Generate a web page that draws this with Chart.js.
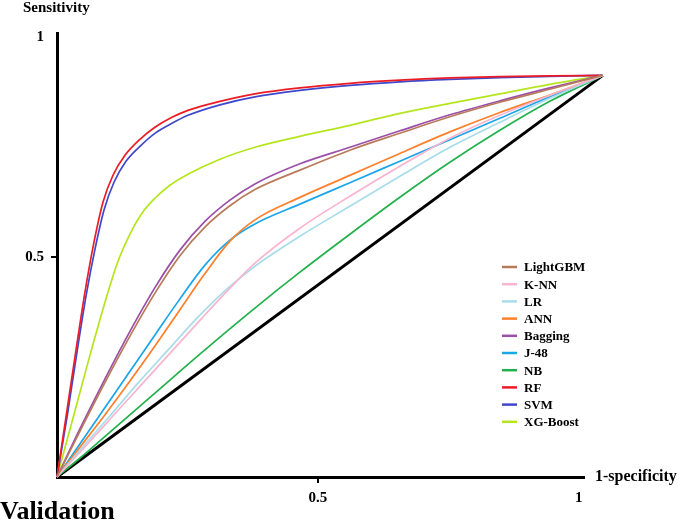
<!DOCTYPE html>
<html>
<head>
<meta charset="utf-8">
<script src="https://cdn.jsdelivr.net/npm/chart.js@4.4.0/dist/chart.umd.min.js"></script>
<style>
  body { margin: 0; background: #fff; }
  #wrap { width: 685px; height: 521px; position: relative; }
</style>
</head>
<body>
<div id="wrap"><canvas id="roc" width="685" height="521"></canvas></div>
<script>
// values: false positive rate (x) and true positive rate (y) per model
var names = ['LightGBM', 'K-NN', 'LR', 'ANN', 'Bagging', 'J-48', 'NB', 'RF', 'SVM', 'XG-Boost'];
var colors = ['#b97a5a', '#f9b4cf', '#a7dcea', '#ff7f2a', '#9b4fa8', '#1aa6e8', '#22b14c', '#ec1c24', '#3f48cc', '#b5e61d'];

// shared false positive grid used by the middle curves
var fprGrid = [0, 0.0441, 0.0920, 0.1398, 0.1877, 0.2356, 0.2835, 0.3314, 0.3793, 0.4655, 0.5613, 0.6571, 0.7529, 0.8487, 0.9444, 1.046];

var lgbmY = [0, 0.1045, 0.2152, 0.3205, 0.4182, 0.5034, 0.5686, 0.6170, 0.6539, 0.6980, 0.7434, 0.7820, 0.8195, 0.8525, 0.8820, 0.9136];
var bagY = [0, 0.1098, 0.2234, 0.3314, 0.4309, 0.5161, 0.5814, 0.6298, 0.6666, 0.7125, 0.7500, 0.7875, 0.8239, 0.8557, 0.8852, 0.9136];
var j48Y = [0, 0.0757, 0.1582, 0.2405, 0.3230, 0.4052, 0.4820, 0.5389, 0.5757, 0.6207, 0.6695, 0.7184, 0.7673, 0.8161, 0.8650, 0.9136];
var annY = [0, 0.0680, 0.1418, 0.2184, 0.2980, 0.3805, 0.4627, 0.5366, 0.5850, 0.6361, 0.6861, 0.7361, 0.7850, 0.8293, 0.8691, 0.9136];

var knnX = [0, 0.0479, 0.1054, 0.1628, 0.2203, 0.2778, 0.3314, 0.3793, 0.4655, 0.5613, 0.6571, 0.7529, 0.8487, 0.9444, 1.046];
var knnY = [0, 0.0614, 0.1364, 0.2114, 0.2864, 0.3614, 0.4295, 0.4864, 0.5659, 0.6386, 0.7068, 0.7705, 0.8227, 0.8682, 0.9136];
var lrX = [0, 0.0441, 0.0996, 0.1552, 0.2126, 0.2701, 0.3276, 0.3793, 0.4655, 0.5613, 0.6571, 0.7529, 0.8487, 0.9444, 1.046];
var lrY = [0, 0.0614, 0.1364, 0.2136, 0.2886, 0.3636, 0.4295, 0.4795, 0.5477, 0.6159, 0.6841, 0.7500, 0.8068, 0.8614, 0.9136];
var nbX = [0, 0.0441, 0.1015, 0.1877, 0.2739, 0.3793, 0.4655, 0.5613, 0.6571, 0.7529, 0.8487, 0.9444, 1.046];
var nbY = [0, 0.0432, 0.1023, 0.1909, 0.2795, 0.3841, 0.4659, 0.5523, 0.6364, 0.7159, 0.7886, 0.8545, 0.9136];
var rfX = [0, 0.0172, 0.0364, 0.0536, 0.0709, 0.0881, 0.1073, 0.1303, 0.1590, 0.1877, 0.2203, 0.2510, 0.3123, 0.3793, 0.4655, 0.5613, 0.6571, 0.7529, 0.8487, 0.9444, 1.046];
var rfY = [0, 0.1364, 0.2886, 0.4205, 0.5341, 0.6250, 0.6864, 0.7318, 0.7682, 0.7955, 0.8182, 0.8341, 0.8545, 0.8716, 0.8852, 0.8955, 0.9027, 0.9077, 0.9107, 0.9125, 0.9136];
var svmX = [0, 0.0192, 0.0383, 0.0556, 0.0728, 0.0900, 0.1092, 0.1322, 0.1590, 0.1877, 0.2203, 0.2510, 0.3123, 0.3793, 0.4655, 0.5613, 0.6571, 0.7529, 0.8487, 0.9444, 1.046];
var svmY = [0, 0.1364, 0.2841, 0.4114, 0.5182, 0.6068, 0.6705, 0.7182, 0.7523, 0.7818, 0.8045, 0.8227, 0.8466, 0.8648, 0.8795, 0.8909, 0.8989, 0.9045, 0.9084, 0.9114, 0.9136];
var xgbX = [0, 0.0307, 0.0632, 0.0920, 0.1149, 0.1398, 0.1628, 0.1877, 0.2165, 0.2510, 0.3123, 0.3793, 0.4655, 0.5613, 0.6571, 0.7529, 0.8487, 0.9444, 1.046];
var xgbY = [0, 0.1341, 0.2773, 0.3977, 0.4841, 0.5523, 0.6000, 0.6341, 0.6636, 0.6886, 0.7227, 0.7500, 0.7750, 0.8000, 0.8273, 0.8500, 0.8716, 0.8932, 0.9136];
var diagX = [0, 1.046];
var diagY = [0, 0.9136];

var xTicks = [0.5, 1];
var yTicks = [0.5, 1];

var seriesX = [fprGrid, knnX, lrX, fprGrid, fprGrid, fprGrid, nbX, rfX, svmX, xgbX];
var seriesY = [lgbmY, knnY, lrY, annY, bagY, j48Y, nbY, rfY, svmY, xgbY];

function pts(xs, ys) {
  return xs.map(function (x, i) { return { x: x, y: ys[i] }; });
}

var datasets = names.map(function (n, i) {
  return {
    label: n,
    data: pts(seriesX[i], seriesY[i]),
    borderColor: colors[i],
    borderWidth: 1.7,
    pointRadius: 0,
    cubicInterpolationMode: 'monotone',
    clip: false
  };
});
datasets.push({
  label: 'diag',
  data: pts(diagX, diagY),
  borderColor: '#000',
  borderWidth: 3,
  pointRadius: 0,
  clip: false
});

var SERIF = '"Liberation Serif", "Times New Roman", serif';

// texts and the legend box drawn straight onto the canvas
var extras = {
  id: 'extras',
  afterDraw: function (chart) {
    var c = chart.ctx;
    var area = chart.chartArea;
    c.save();
    c.fillStyle = '#000';
    c.textBaseline = 'alphabetic';
    c.textAlign = 'left';
    c.font = 'bold 15px ' + SERIF;
    c.fillText('Sensitivity', 23, 12);
    c.font = 'bold 16px ' + SERIF;
    c.textBaseline = 'middle';
    c.fillText('1-specificity', area.right + 11, chart.scales.y.getPixelForValue(0));
    c.font = 'bold 26px ' + SERIF;
    c.textBaseline = 'alphabetic';
    c.fillText('Validation', 0, 519);

    c.font = 'bold 13px ' + SERIF;
    c.textBaseline = 'middle';
    for (var i = 0; i < names.length; i++) {
      var y = 267 + i * 17.2;
      c.strokeStyle = colors[i];
      c.lineWidth = 2.5;
      c.beginPath();
      c.moveTo(502, y);
      c.lineTo(517, y);
      c.stroke();
      c.fillText(names[i], 524, y + 1);
    }
    c.restore();
  }
};

function tickColor(ctx) {
  return ctx.tick && ctx.tick.value === 0.5 ? '#000' : 'rgba(0,0,0,0)';
}

function tickLabel(v) { return String(v); }

new Chart(document.getElementById('roc'), {
  type: 'line',
  data: { datasets: datasets },
  options: {
    responsive: false,
    animation: false,
    layout: { padding: { left: 0, top: 33, right: 101, bottom: 0 } },
    plugins: { legend: { display: false }, tooltip: { enabled: false } },
    scales: {
      x: {
        type: 'linear',
        min: 0,
        max: 1.01,
        afterBuildTicks: function (s) { s.ticks = xTicks.map(function (v) { return { value: v }; }); },
        afterFit: function (s) { s.height = 44; },
        border: { color: '#000', width: 3 },
        grid: { drawOnChartArea: false, drawTicks: true, tickLength: 6, color: tickColor, lineWidth: 2 },
        ticks: { color: '#000', padding: 6, maxRotation: 0, callback: tickLabel, font: { family: SERIF, size: 15, weight: 'bold' } }
      },
      y: {
        type: 'linear',
        min: 0,
        max: 1.01,
        afterBuildTicks: function (s) { s.ticks = yTicks.map(function (v) { return { value: v }; }); },
        afterFit: function (s) { s.width = 57; },
        border: { color: '#000', width: 3 },
        grid: { drawOnChartArea: false, drawTicks: true, tickLength: 6, color: tickColor, lineWidth: 2 },
        ticks: { color: '#000', padding: 7, callback: tickLabel, font: { family: SERIF, size: 15, weight: 'bold' } }
      }
    }
  },
  plugins: [extras]
});
</script>
</body>
</html>
